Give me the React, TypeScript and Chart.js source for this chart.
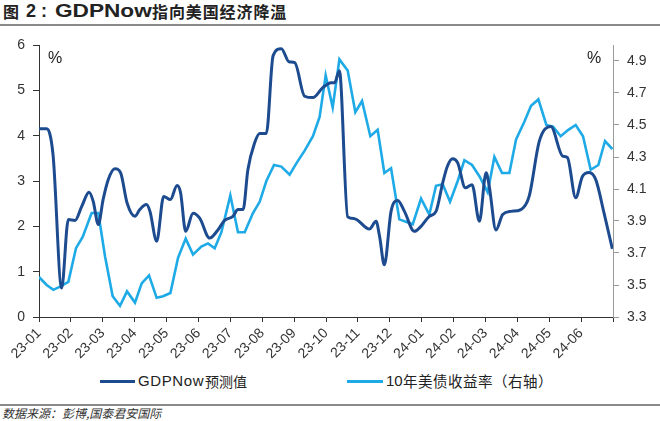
import React, { useEffect, useRef } from 'react';
import { Chart, registerables } from 'chart.js';

Chart.register(...registerables);

// ---- data ----
const monthLabels = [
  '23-01', '23-02', '23-03', '23-04', '23-05', '23-06', '23-07', '23-08', '23-09',
  '23-10', '23-11', '23-12', '24-01', '24-02', '24-03', '24-04', '24-05', '24-06',
];
const xTickValues = [0, 1, 2, 3, 4, 5, 6, 7, 8, 9, 10, 11, 12, 13, 14, 15, 16, 17, 18];

// x = months since start of Jan 2023
const gdpMonths = [
  0, 0.24, 0.44, 0.71, 0.92, 1.13, 1.34, 1.57, 1.7, 1.86, 2.01, 2.17, 2.38, 2.56, 2.76,
  3.01, 3.16, 3.37, 3.48, 3.69, 3.91, 4.12, 4.33, 4.44, 4.6, 4.83, 5.04, 5.35, 5.61,
  5.82, 6.08, 6.24, 6.4, 6.55, 6.76, 6.92, 7.13, 7.34, 7.6, 7.84, 8.02, 8.33, 8.59,
  8.9, 9.16, 9.27, 9.42, 9.68, 9.89, 10.36, 10.57, 10.68, 10.83, 11.04, 11.25, 11.46,
  11.77, 11.98, 12.24, 12.45, 12.66, 12.81, 12.97, 13.13, 13.37, 13.58, 13.81, 14.02,
  14.12, 14.33, 14.54, 14.8, 15.11, 15.37, 15.69, 16.05, 16.42, 16.57, 16.83, 17.04,
  17.25, 17.46, 17.72, 17.98,
];
const gdpValues = [
  4.15, 4.15, 3.58, 0.64, 2.15, 2.13, 2.44, 2.75, 2.55, 2.04, 2.59, 3.03, 3.27, 3.18, 2.52,
  2.22, 2.37, 2.48, 2.33, 1.67, 2.66, 2.59, 2.9, 2.74, 1.89, 2.29, 2.18, 1.74, 1.92,
  2.13, 2.22, 2.37, 2.37, 3.25, 3.84, 4.05, 4.05, 5.76, 5.92, 5.63, 5.61, 4.87, 4.84,
  5.06, 5.17, 5.17, 5.43, 2.21, 2.17, 1.94, 2.11, 1.78, 1.15, 2.33, 2.57, 2.33,
  1.89, 2.0, 2.22, 2.33, 2.96, 3.33, 3.49, 3.4, 2.85, 2.92, 2.11, 3.18,
  2.88, 1.92, 2.26, 2.33, 2.37, 2.66, 3.88, 4.2, 3.55, 3.52, 2.63, 3.1,
  3.19, 3.03, 2.29, 1.5,
];

const yieldMonths = [
  0, 0.24, 0.45, 0.66, 0.92, 1.16, 1.37, 1.65, 1.86, 2.07, 2.31, 2.54, 2.76, 3.01, 3.22,
  3.45, 3.69, 3.89, 4.12, 4.36, 4.6, 4.83, 5.09, 5.3, 5.51, 5.72, 6.0, 6.24, 6.45, 6.71,
  6.92, 7.13, 7.37, 7.6, 7.86, 8.07, 8.33, 8.59, 8.8, 8.99, 9.21, 9.42, 9.68, 9.92, 10.13,
  10.39, 10.62, 10.83, 11.04, 11.3, 11.72, 11.98, 12.24, 12.45, 12.66, 12.89, 13.13, 13.34,
  13.58, 13.81, 14.07, 14.28, 14.52, 14.75, 14.96, 15.22, 15.43, 15.66, 15.91, 16.12,
  16.36, 16.6, 16.83, 17.06, 17.3, 17.54, 17.75, 17.98,
];
const yieldValues = [
  3.55, 3.5, 3.47, 3.49, 3.52, 3.73, 3.8, 3.95, 3.95, 3.68, 3.43, 3.37, 3.46, 3.39, 3.51,
  3.56, 3.42, 3.43, 3.45, 3.67, 3.79, 3.69, 3.74, 3.76, 3.73, 3.83, 4.06, 3.83, 3.83, 3.95,
  4.02, 4.15, 4.25, 4.24, 4.19, 4.26, 4.34, 4.43, 4.55, 4.81, 4.61, 4.91, 4.84, 4.58, 4.65,
  4.43, 4.47, 4.2, 4.23, 3.91, 3.88, 4.04, 3.94, 4.12, 4.13, 4.02, 4.15, 4.28,
  4.25, 4.18, 4.08, 4.3, 4.2, 4.2, 4.41, 4.52, 4.62, 4.66, 4.5, 4.49,
  4.43, 4.47, 4.5, 4.43, 4.22, 4.25, 4.4, 4.35,
];

const leftTicks = [0, 1, 2, 3, 4, 5, 6];
const rightTicks = [3.3, 3.5, 3.7, 3.9, 4.1, 4.3, 4.5, 4.7, 4.9];

const DARK = '#1d4b8f';
const LIGHT = '#1eaae6';
const FONT = "'Liberation Sans', Arial, 'Noto Sans CJK SC', sans-serif";
const CJK = "'Noto Sans CJK SC', 'Liberation Sans', sans-serif";

export default function App() {
  const ref = useRef<HTMLCanvasElement | null>(null);

  useEffect(() => {
    if (!ref.current) return;
    const chart = new Chart(ref.current, {
      type: 'line',
      data: {
        datasets: [
          {
            label: 'GDPNow预测值',
            data: gdpMonths.map((x, i) => ({ x, y: gdpValues[i] })),
            borderColor: DARK,
            backgroundColor: DARK,
            borderWidth: 3,
            pointRadius: 0,
            cubicInterpolationMode: 'monotone',
            yAxisID: 'y',
          },
          {
            label: '10年美债收益率（右轴）',
            data: yieldMonths.map((x, i) => ({ x, y: yieldValues[i] })),
            borderColor: LIGHT,
            backgroundColor: LIGHT,
            borderWidth: 2.6,
            pointRadius: 0,
            tension: 0,
            yAxisID: 'y1',
          },
        ],
      },
      options: {
        animation: false,
        responsive: false,
        maintainAspectRatio: false,
        layout: { padding: { top: 17, left: 0, right: 0, bottom: 0 } },
        plugins: { legend: { display: false }, tooltip: { enabled: false } },
        scales: {
          x: {
            type: 'linear',
            min: 0,
            max: 18,
            afterBuildTicks: (s: any) => {
              s.ticks = xTickValues.map((v) => ({ value: v }));
            },
            afterFit: (s: any) => {
              s.height = 53;
            },
            ticks: {
              autoSkip: false,
              minRotation: 45,
              maxRotation: 45,
              padding: 3,
              color: '#333',
              font: { size: 14, family: FONT },
              callback: (v: any) => monthLabels[v] ?? '',
            },
            grid: { display: true, drawOnChartArea: false, drawTicks: true, tickLength: 5, color: '#333' },
            border: { display: true, color: '#333', width: 1 },
          },
          y: {
            position: 'left',
            min: 0,
            max: 6,
            afterBuildTicks: (s: any) => {
              s.ticks = leftTicks.map((v) => ({ value: v }));
            },
            afterFit: (s: any) => {
              s.width = 39;
            },
            ticks: {
              padding: 8,
              color: '#333',
              font: { size: 14, family: FONT },
              callback: (v: any) => String(v),
            },
            grid: { display: true, drawOnChartArea: false, drawTicks: true, tickLength: 6, color: '#333' },
            border: { display: true, color: '#333', width: 1 },
          },
          y1: {
            position: 'right',
            min: 3.3,
            max: 5.0,
            afterBuildTicks: (s: any) => {
              s.ticks = rightTicks.map((v) => ({ value: v }));
            },
            afterFit: (s: any) => {
              s.width = 47;
            },
            ticks: {
              padding: 8,
              color: '#333',
              font: { size: 14, family: FONT },
              callback: (v: any) => Number(v).toFixed(1),
            },
            grid: { display: true, drawOnChartArea: false, drawTicks: true, tickLength: 6, color: '#9a9a9a' },
            border: { display: true, color: '#9a9a9a', width: 1 },
          },
        },
      },
    });
    return () => chart.destroy();
  }, []);

  const abs = (s: React.CSSProperties): React.CSSProperties => ({ position: 'absolute', whiteSpace: 'nowrap', ...s });

  return (
    <div style={{ position: 'fixed', left: 0, top: 0, width: 660, height: 421, background: '#fff', overflow: 'hidden', color: '#222' }}>
      {/* title */}
      <span style={abs({ left: 3, top: 1, fontFamily: CJK, fontWeight: 'bold', fontSize: 16, lineHeight: '20px' })}>图</span>
      <span style={abs({ left: 26, top: 1, fontFamily: FONT, fontWeight: 'bold', fontSize: 18, lineHeight: '20px' })}>2</span>
      <span style={abs({ left: 41, top: 1, fontFamily: FONT, fontWeight: 'bold', fontSize: 18, lineHeight: '20px' })}>:</span>
      <span style={abs({ left: 55, top: 1, fontFamily: FONT, fontWeight: 'bold', fontSize: 19, lineHeight: '20px', transform: 'scaleX(1.19)', transformOrigin: 'left center' })}>GDPNow</span>
      <span style={abs({ left: 152, top: 1, fontFamily: CJK, fontWeight: 'bold', fontSize: 16, letterSpacing: 0.9, lineHeight: '20px' })}>指向美国经济降温</span>
      <div style={abs({ left: 0, top: 24, width: 660, height: 2, background: '#8a8a8a' })} />

      {/* chart */}
      <div style={abs({ left: 0, top: 28, width: 660, height: 342 })}>
        <canvas ref={ref} width={660} height={342} style={{ display: 'block' }} />
      </div>

      {/* unit labels */}
      <span style={abs({ left: 48, top: 49, fontFamily: FONT, fontSize: 16, lineHeight: '18px', color: '#222' })}>%</span>
      <span style={abs({ left: 587, top: 49, fontFamily: FONT, fontSize: 16, lineHeight: '18px', color: '#222' })}>%</span>

      {/* legend */}
      <div style={abs({ left: 100, top: 380, width: 35, height: 3, background: DARK })} />
      <span style={abs({ left: 138, top: 372, fontFamily: FONT, fontSize: 15, letterSpacing: 0.6, lineHeight: '18px', color: '#222' })}>GDPNow</span>
      <span style={abs({ left: 205, top: 372, fontFamily: CJK, fontSize: 14, lineHeight: '18px', color: '#222' })}>预测值</span>
      <div style={abs({ left: 347, top: 380, width: 36, height: 3, background: LIGHT })} />
      <span style={abs({ left: 386, top: 372, fontFamily: FONT, fontSize: 15, lineHeight: '18px', color: '#222' })}>10</span>
      <span style={abs({ left: 403, top: 372, fontFamily: CJK, fontSize: 14.5, letterSpacing: 0.5, lineHeight: '18px', color: '#222' })}>年美债收益率（右轴）</span>

      {/* footer */}
      <div style={abs({ left: 0, top: 404, width: 660, height: 1.5, background: '#8a8a8a' })} />
      <span style={abs({ left: 2, top: 405, fontFamily: CJK, fontStyle: 'italic', fontSize: 12, lineHeight: '15px', color: '#333' })}>数据来源：彭博,国泰君安国际</span>
    </div>
  );
}
